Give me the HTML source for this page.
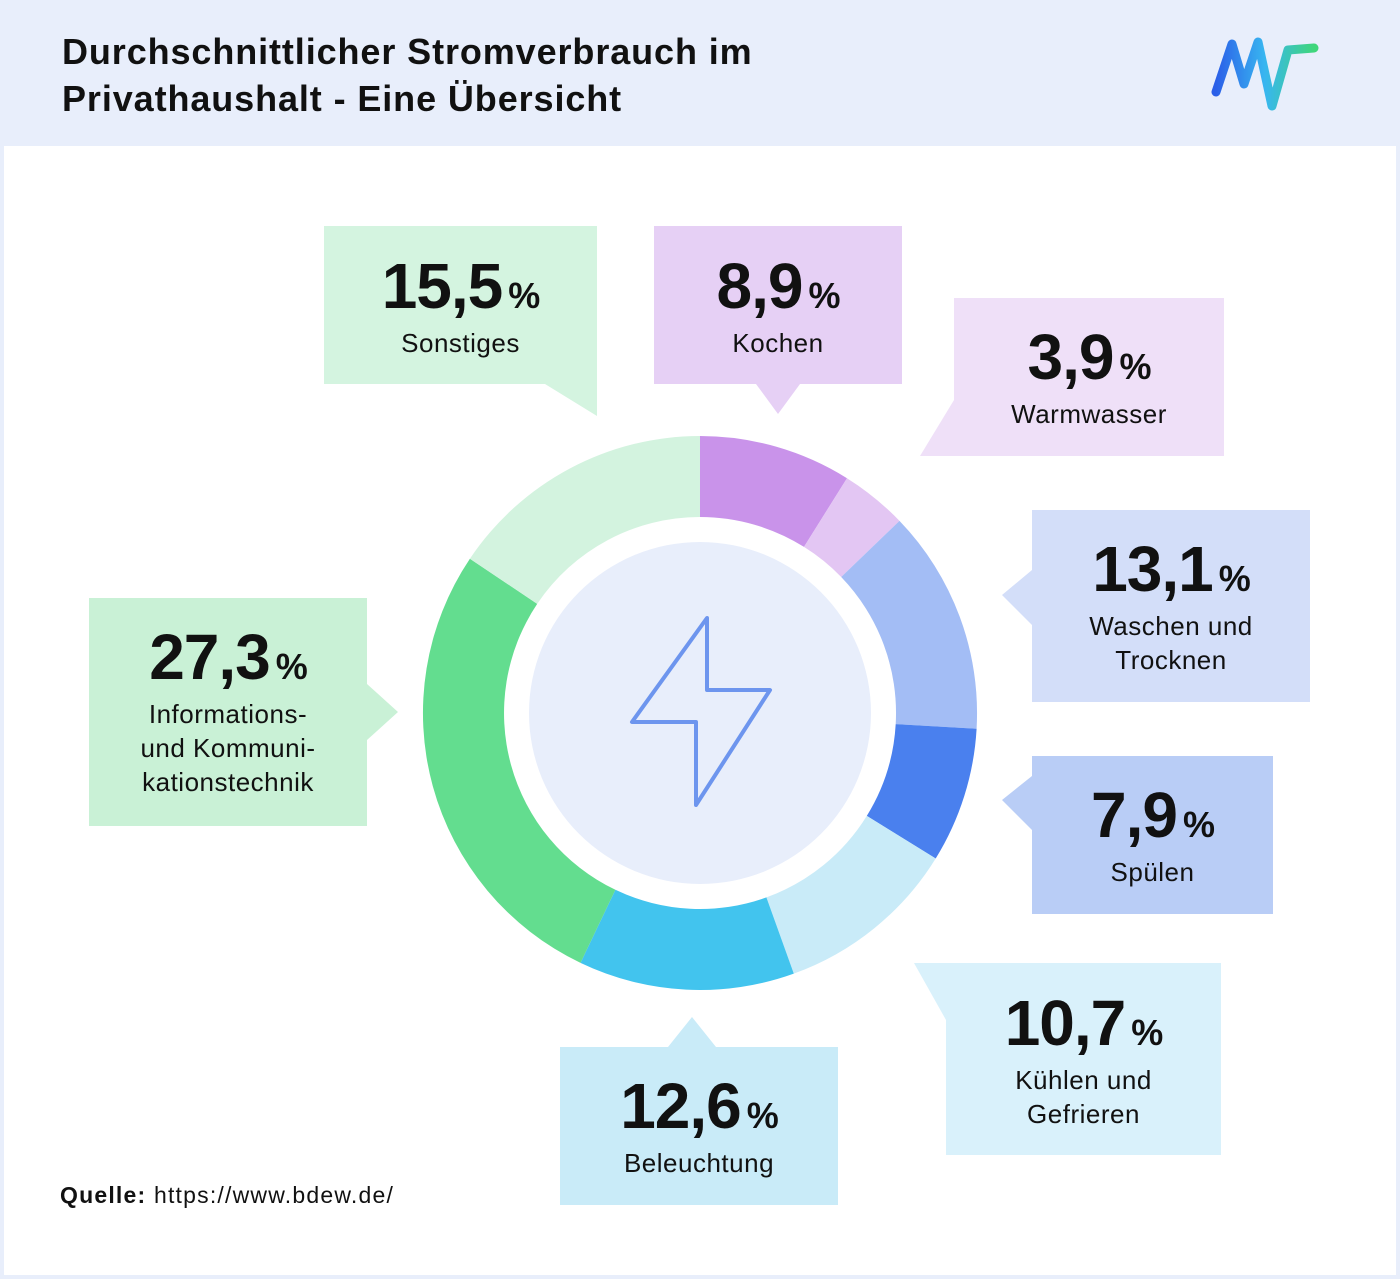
<!DOCTYPE html>
<html><head><meta charset="utf-8"><style>
body{margin:0;width:1400px;height:1279px;background:#e8eefb;position:relative;overflow:hidden;font-family:"Liberation Sans",sans-serif;color:#111}
#main{position:absolute;left:4px;top:146px;width:1392px;height:1129px;background:#fff}
h1{position:absolute;left:62px;top:28px;margin:0;font-size:36px;line-height:47px;font-weight:bold;color:#111;letter-spacing:0.9px}
.b{position:absolute;text-align:center;font-size:26px;line-height:34px;color:#111;letter-spacing:0.5px}
.b .n{font-size:64px;font-weight:bold;line-height:60px;letter-spacing:-1px}
.b .n small{font-size:36px;margin-left:6px}
.src{position:absolute;left:60px;top:1182px;font-size:23px;letter-spacing:1.2px}
</style></head><body>
<div id="main"></div>
<h1>Durchschnittlicher Stromverbrauch im<br>Privathaushalt - Eine Übersicht</h1>
<svg style="position:absolute;left:1210px;top:34px" width="115" height="80" viewBox="0 0 115 80">
<defs><linearGradient id="g" x1="0" x2="1"><stop offset="0" stop-color="#2b5fe8"/><stop offset="0.5" stop-color="#38b6f0"/><stop offset="1" stop-color="#3fd67a"/></linearGradient></defs>
<path d="M6 58 L22 10 L34 50 L48 8 L62 72 L78 16 L104 14" fill="none" stroke="url(#g)" stroke-width="9" stroke-linejoin="round" stroke-linecap="round"/>
</svg>
<svg id="s" style="position:absolute;left:0;top:0" width="1400" height="1279"></svg>
<div class="b" style="left:324px;top:256px;width:273px"><div class="n">15,5<small>%</small></div>Sonstiges</div>
<div class="b" style="left:654px;top:256px;width:248px"><div class="n">8,9<small>%</small></div>Kochen</div>
<div class="b" style="left:954px;top:327px;width:270px"><div class="n">3,9<small>%</small></div>Warmwasser</div>
<div class="b" style="left:1032px;top:539px;width:278px"><div class="n">13,1<small>%</small></div>Waschen und<br>Trocknen</div>
<div class="b" style="left:1032px;top:785px;width:241px"><div class="n">7,9<small>%</small></div>Spülen</div>
<div class="b" style="left:946px;top:993px;width:275px"><div class="n">10,7<small>%</small></div>Kühlen und<br>Gefrieren</div>
<div class="b" style="left:560px;top:1076px;width:278px"><div class="n">12,6<small>%</small></div>Beleuchtung</div>
<div class="b" style="left:89px;top:627px;width:278px"><div class="n">27,3<small>%</small></div>Informations-<br>und Kommuni-<br>kationstechnik</div>
<div class="src"><b>Quelle:</b> https://www.bdew.de/</div>
<script>
var s=document.getElementById('s'),h='';
function P(pts,c){h+='<polygon points="'+pts+'" fill="'+c+'"/>';}
P('324,226 597,226 597,416 545,384 324,384','#d4f4e0');
P('654,226 902,226 902,384 800,384 778,414 756,384 654,384','#e6d0f5');
P('954,298 1224,298 1224,456 920,456 954,400','#efe0f8');
P('1032,510 1310,510 1310,702 1032,702 1032,625 1002,595 1032,570','#d3def9');
P('1032,756 1273,756 1273,914 1032,914 1032,830 1002,800 1032,776','#b9cdf6');
P('914,963 1221,963 1221,1155 946,1155 946,1020','#d9f1fb');
P('560,1047 668,1047 692,1017 716,1047 838,1047 838,1205 560,1205','#c9ebf8');
P('89,598 367,598 367,684 398,712 367,740 367,826 89,826','#c9f1d6');
var cx=700,cy=713,R=277,r=196,a=0;
var d=[[8.9,'#c993ea'],[3.9,'#e3c6f3'],[13.1,'#a3bdf5'],[7.9,'#4a80ee'],[10.7,'#c9ebf8'],[12.6,'#42c4ee'],[27.3,'#63dd8f'],[15.6,'#d3f3df']];
function pt(rad,ang){var t=ang/100*2*Math.PI;return (cx+rad*Math.sin(t)).toFixed(1)+' '+(cy-rad*Math.cos(t)).toFixed(1);}
d.forEach(function(e){var b=a+e[0],l=e[0]>50?1:0;
h+='<path d="M'+pt(R,a)+' A'+R+' '+R+' 0 '+l+' 1 '+pt(R,b)+' L'+pt(r,b)+' A'+r+' '+r+' 0 '+l+' 0 '+pt(r,a)+'Z" fill="'+e[1]+'"/>';a=b;});
h+='<circle cx="700" cy="713" r="171" fill="#e8eefb"/>';
h+='<path d="M707 618 L632 722 L696 722 L696 805 L770 690 L707 690 Z" fill="none" stroke="#6d95ee" stroke-width="4" stroke-linejoin="round"/>';
s.innerHTML=h;
</script>
</body></html>
